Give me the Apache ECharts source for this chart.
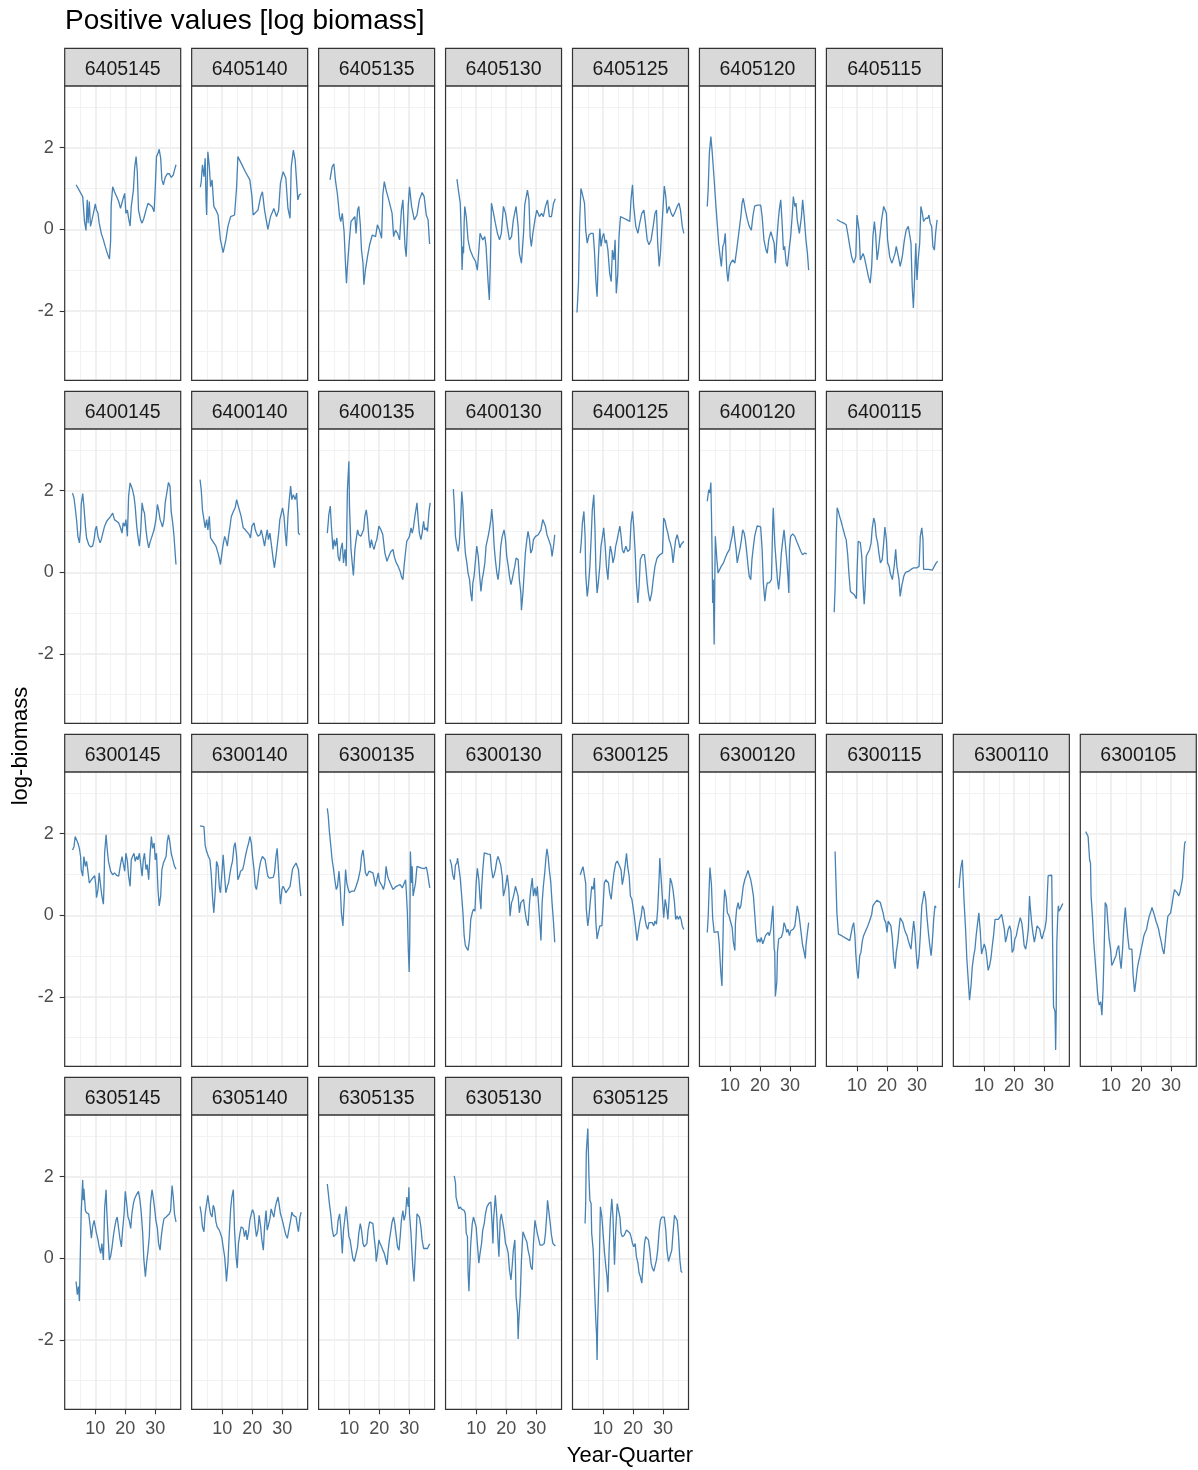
<!DOCTYPE html>
<html>
<head>
<meta charset="utf-8">
<title>Positive values [log biomass]</title>
<script src="https://cdn.jsdelivr.net/npm/echarts@6/dist/echarts.min.js"></script>
<style>
html, body { margin: 0; padding: 0; background: #ffffff; }
#main { width: 1198px; height: 1470px; }
</style>
</head>
<body>
<div id="main"></div>
<script>
// facet layout: one row of panel ids per row of the figure
var rowIds = [
    ['6405145', '6405140', '6405135', '6405130', '6405125', '6405120', '6405115'],
    ['6400145', '6400140', '6400135', '6400130', '6400125', '6400120', '6400115'],
    ['6300145', '6300140', '6300135', '6300130', '6300125', '6300120', '6300115', '6300110', '6300105'],
    ['6305145', '6305140', '6305135', '6305130', '6305125']
];

// axis ticks
var xTicks = [10, 20, 30];
var yTicks = [-2, 0, 2];

// series: [year-quarter, log-biomass]
var d6405145 = [[3.6,1.09],[5.8,0.80],[6.4,0.19],[6.9,-0.03],[7.3,0.72],[7.6,0.15],[8.0,0.68],[8.4,0.07],[8.9,0.23],[9.6,0.47],[10.0,0.62],[10.4,0.47],[10.9,0.39],[11.3,0.15],[12.0,-0.10],[12.7,-0.26],[13.3,-0.42],[14.0,-0.59],[14.7,-0.73],[15.1,-0.30],[15.3,0.60],[15.8,1.04],[16.4,0.92],[17.1,0.80],[17.8,0.68],[18.4,0.51],[18.9,0.47],[19.3,0.76],[19.8,0.88],[20.2,0.39],[20.7,0.47],[21.1,0.27],[21.6,0.08],[22.0,0.56],[22.7,0.96],[23.1,1.49],[23.6,1.78],[24.0,1.41],[24.4,0.47],[25.1,0.23],[25.6,0.15],[26.2,0.27],[26.9,0.47],[27.6,0.64],[28.2,0.62],[28.9,0.56],[29.6,0.43],[30.0,1.04],[30.4,1.78],[30.9,1.86],[31.3,1.96],[31.8,1.74],[32.2,1.21],[32.7,1.09],[33.3,1.27],[34.0,1.36],[34.7,1.36],[35.3,1.27],[36.0,1.33],[36.4,1.45],[36.9,1.58]];
var d6405140 = [[2.7,1.03],[3.0,1.17],[3.4,1.58],[3.9,1.29],[4.3,1.74],[4.6,0.72],[4.8,0.35],[5.2,1.90],[5.7,1.53],[6.1,1.04],[6.6,1.21],[7.2,0.56],[7.9,0.47],[8.6,0.35],[9.4,-0.26],[10.3,-0.57],[11.2,-0.26],[11.9,0.07],[12.8,0.31],[14.1,0.35],[14.8,1.04],[15.2,1.78],[16.3,1.62],[17.7,1.41],[19.2,1.21],[19.9,0.80],[20.3,0.35],[21.9,0.47],[22.8,0.80],[23.4,0.92],[24.1,0.47],[25.2,0.00],[26.1,0.31],[27.2,0.51],[28.1,0.31],[28.8,0.47],[29.4,1.13],[30.3,1.41],[31.2,1.25],[31.9,0.51],[32.6,0.27],[33.0,1.53],[33.7,1.94],[34.3,1.70],[35.2,0.72],[35.7,0.84],[36.3,0.87]];
var d6405135 = [[3.6,1.21],[4.3,1.53],[4.9,1.60],[5.4,1.21],[6.1,0.84],[6.8,0.31],[7.2,0.19],[7.7,0.39],[8.3,-0.06],[8.8,-0.91],[9.1,-1.32],[9.4,-0.91],[9.9,-0.42],[10.6,0.19],[11.2,0.23],[11.9,0.31],[12.3,-0.10],[12.8,0.47],[13.2,0.56],[13.7,0.11],[14.1,-0.51],[14.6,-0.83],[14.9,-1.36],[15.4,-1.00],[16.1,-0.67],[16.8,-0.38],[17.7,-0.14],[18.8,-0.18],[19.4,0.11],[20.1,-0.02],[20.8,-0.22],[21.2,0.84],[21.7,1.17],[22.3,0.96],[23.2,0.72],[24.3,0.39],[24.8,-0.18],[25.4,-0.02],[26.1,-0.10],[26.8,-0.26],[27.4,0.47],[27.9,0.72],[28.6,-0.42],[29.0,-0.67],[29.7,0.60],[30.1,1.04],[30.8,0.56],[31.7,0.23],[32.6,0.35],[33.4,0.72],[34.3,0.90],[35.0,0.80],[35.7,0.35],[36.3,0.23],[36.8,-0.36]];
var d6405130 = [[3.6,1.23],[4.0,1.00],[4.7,0.64],[5.1,-0.26],[5.3,-1.00],[5.6,-0.42],[5.8,-0.59],[6.0,0.15],[6.2,0.56],[6.7,0.31],[7.3,-0.26],[8.0,-0.51],[8.9,-0.67],[9.8,-0.79],[10.4,-1.00],[10.9,-0.51],[11.3,-0.10],[11.8,-0.14],[12.2,-0.26],[12.9,-0.18],[13.3,-0.42],[14.0,-1.32],[14.4,-1.73],[14.7,-0.91],[15.1,0.64],[15.8,0.39],[16.4,0.15],[17.1,-0.10],[17.8,-0.26],[18.4,-0.10],[19.1,0.56],[19.8,0.39],[20.4,0.07],[21.1,-0.26],[21.8,-0.18],[22.4,0.23],[23.3,0.56],[24.0,0.07],[24.4,-0.59],[25.1,-0.83],[25.8,-0.10],[26.2,0.60],[26.7,0.80],[27.1,0.96],[27.6,0.72],[28.0,-0.18],[28.4,-0.42],[28.9,-0.10],[29.6,0.23],[30.2,0.47],[31.1,0.31],[31.8,0.39],[32.4,0.31],[33.1,0.56],[33.8,0.72],[34.4,0.31],[35.1,0.31],[35.8,0.64],[36.4,0.75]];
var d6405125 = [[1.3,-2.04],[1.8,-1.32],[2.2,0.23],[2.6,1.00],[2.9,0.92],[3.3,0.88],[3.8,0.64],[4.2,-0.02],[4.7,-0.34],[5.3,-0.14],[6.0,-0.10],[6.7,-0.10],[7.1,-0.51],[7.6,-1.28],[8.0,-1.65],[8.4,-0.75],[8.9,0.02],[9.3,-0.42],[9.8,-0.18],[10.2,-0.10],[10.7,-0.34],[11.1,-0.26],[11.6,-0.51],[12.2,-1.08],[12.7,-1.28],[13.1,-0.51],[13.6,-0.75],[14.0,-0.26],[14.4,-1.57],[14.9,-1.08],[15.3,-0.18],[15.8,0.31],[16.9,0.27],[18.0,0.23],[18.9,0.19],[19.3,0.72],[19.8,1.09],[20.2,0.56],[20.9,0.07],[21.6,-0.10],[22.2,0.15],[22.9,0.39],[23.6,0.47],[24.0,0.23],[24.7,-0.26],[25.3,-0.38],[26.0,-0.26],[26.7,0.07],[27.3,0.39],[27.8,0.47],[28.2,-0.34],[28.7,-0.91],[29.1,-0.59],[29.6,0.07],[30.0,0.56],[30.4,1.06],[30.9,0.80],[31.3,0.39],[32.0,0.56],[32.7,0.39],[33.3,0.31],[34.0,0.43],[34.7,0.56],[35.3,0.64],[35.8,0.47],[36.4,0.07],[36.9,-0.10]];
var d6405120 = [[2.4,0.56],[2.7,0.96],[3.1,1.86],[3.6,2.27],[4.0,1.94],[4.4,1.53],[4.9,1.00],[5.3,0.56],[5.8,0.07],[6.2,-0.34],[6.7,-0.67],[7.1,-0.91],[7.6,-0.42],[8.0,-0.34],[8.4,-0.10],[8.9,-1.00],[9.3,-1.28],[9.8,-0.91],[10.2,-0.83],[10.9,-0.75],[11.6,-0.83],[12.2,-0.51],[12.9,-0.10],[13.6,0.31],[14.0,0.64],[14.4,0.76],[15.1,0.47],[15.8,0.23],[16.4,0.07],[17.1,-0.02],[17.6,0.31],[18.2,0.57],[19.1,0.59],[20.2,0.59],[20.7,0.31],[21.3,-0.26],[22.0,-0.51],[22.4,-0.59],[22.9,-0.26],[23.6,-0.06],[24.2,-0.10],[24.7,-0.34],[25.1,-0.83],[25.6,-0.26],[26.0,0.15],[26.4,0.47],[26.9,0.72],[27.3,0.23],[27.8,-0.51],[28.2,-0.42],[28.7,-0.83],[29.1,-0.91],[29.8,-0.42],[30.2,-0.18],[30.7,0.31],[31.1,0.80],[31.6,0.56],[32.0,0.64],[32.4,0.23],[33.1,-0.10],[33.8,0.31],[34.2,0.72],[34.7,0.31],[35.3,-0.26],[35.8,-0.59],[36.2,-1.00]];
var d6405115 = [[3.3,0.24],[4.4,0.19],[5.6,0.15],[6.4,0.11],[6.9,-0.10],[7.6,-0.42],[8.2,-0.67],[8.9,-0.83],[9.6,-0.67],[10.0,0.35],[10.7,-0.02],[11.1,-0.75],[11.6,-0.67],[12.0,-0.59],[12.4,-0.67],[13.1,-0.91],[13.8,-1.16],[14.4,-1.32],[14.9,-0.91],[15.3,-0.18],[15.8,0.19],[16.2,-0.10],[16.7,-0.75],[17.1,-0.55],[17.6,-0.51],[18.2,0.23],[18.9,0.56],[19.3,0.60],[19.8,0.39],[20.2,-0.26],[20.9,-0.67],[21.6,-0.83],[22.0,-0.75],[22.7,-0.59],[23.1,-0.42],[23.8,-0.67],[24.4,-0.91],[25.1,-0.67],[25.8,-0.26],[26.4,-0.02],[27.1,0.07],[27.6,0.11],[28.0,-0.34],[28.4,-1.40],[28.8,-1.93],[29.1,-1.40],[29.6,-0.34],[30.0,-1.24],[30.4,-0.75],[30.9,-0.34],[31.3,0.56],[31.8,0.39],[32.2,0.19],[32.9,0.27],[33.6,0.27],[34.0,0.35],[34.4,0.15],[34.9,0.07],[35.3,-0.42],[35.8,-0.51],[36.2,-0.10],[36.7,0.23]];

var d6400145 = [[2.4,1.94],[2.9,1.82],[3.3,1.58],[3.8,1.25],[4.2,0.88],[4.7,0.72],[5.1,1.04],[5.3,1.66],[5.8,1.93],[6.2,1.62],[6.7,1.13],[7.1,0.84],[7.8,0.68],[8.4,0.62],[9.1,0.64],[9.6,0.80],[10.0,1.04],[10.4,1.13],[10.9,0.88],[11.6,0.72],[12.0,0.80],[12.4,0.92],[13.1,1.13],[13.8,1.25],[14.4,1.29],[15.1,1.37],[15.8,1.45],[16.4,1.29],[17.1,1.25],[17.8,1.21],[18.4,1.09],[18.9,0.96],[19.3,1.21],[19.8,1.13],[20.2,1.29],[20.7,0.88],[21.1,1.86],[21.6,2.19],[22.0,2.11],[22.4,2.02],[22.9,1.86],[23.3,1.62],[23.8,1.13],[24.2,0.88],[24.7,0.64],[25.1,0.96],[25.6,1.70],[26.0,1.53],[26.4,1.45],[26.9,1.04],[27.3,0.80],[27.8,0.60],[28.2,0.72],[28.9,0.88],[29.6,1.04],[30.2,1.29],[30.7,1.66],[31.1,1.53],[31.6,1.29],[32.0,1.21],[32.4,1.11],[32.9,1.29],[33.3,1.70],[34.0,2.02],[34.4,2.20],[34.9,2.11],[35.3,1.49],[35.8,1.21],[36.2,0.92],[36.7,0.39],[36.9,0.19]];
var d6400140 = [[2.6,2.27],[3.0,2.02],[3.4,1.53],[3.9,1.29],[4.3,1.09],[4.8,1.29],[5.2,1.04],[5.7,1.37],[6.1,0.84],[6.6,0.80],[7.2,0.72],[7.9,0.64],[8.6,0.47],[9.0,0.35],[9.4,0.19],[9.9,0.47],[10.3,0.68],[10.8,0.88],[11.2,0.80],[11.7,0.64],[12.1,0.88],[12.6,1.13],[13.0,1.36],[13.7,1.49],[14.3,1.58],[14.8,1.78],[15.2,1.66],[15.7,1.53],[16.3,1.37],[17.0,1.09],[17.7,1.04],[18.3,1.06],[19.0,0.92],[19.4,0.84],[19.9,1.13],[20.6,1.21],[21.0,1.04],[21.4,0.96],[21.9,0.88],[22.6,0.92],[23.0,1.04],[23.7,0.80],[24.1,0.64],[24.6,0.88],[25.0,1.04],[25.4,0.80],[25.9,0.96],[26.3,0.72],[27.0,0.31],[27.4,0.11],[27.9,0.39],[28.3,0.64],[28.8,0.96],[29.2,1.29],[29.7,1.45],[30.1,1.58],[30.6,1.37],[31.0,0.96],[31.4,0.64],[31.9,1.37],[32.3,1.74],[32.8,2.11],[33.2,1.78],[33.7,1.90],[34.3,1.78],[34.8,1.94],[35.2,1.41],[35.4,0.96],[35.9,0.92]];
var d6400135 = [[2.7,0.96],[3.0,1.21],[3.2,1.41],[3.7,1.62],[4.1,1.09],[4.6,0.56],[5.0,0.80],[5.4,0.64],[5.9,0.84],[6.3,0.39],[6.8,0.27],[7.2,0.56],[7.7,0.72],[8.1,0.23],[8.6,0.56],[9.0,0.15],[9.4,2.02],[9.9,2.72],[10.1,1.62],[10.6,0.56],[11.0,0.23],[11.4,-0.08],[11.9,0.56],[12.3,0.80],[12.8,1.04],[13.2,0.92],[13.9,0.88],[14.3,0.92],[14.8,1.04],[15.2,1.37],[15.7,1.53],[16.1,1.29],[16.6,0.80],[17.0,0.60],[17.4,0.80],[17.9,0.64],[18.3,0.56],[18.8,0.72],[19.2,0.80],[19.9,1.13],[20.6,1.04],[21.2,0.92],[21.9,0.47],[22.6,0.27],[23.2,0.39],[23.9,0.51],[24.6,0.56],[25.0,0.39],[25.7,0.23],[26.3,0.15],[27.0,0.02],[27.4,-0.10],[27.9,-0.18],[28.3,0.15],[28.8,0.51],[29.2,0.76],[29.7,0.80],[30.1,0.88],[30.6,1.09],[31.0,0.96],[31.4,1.09],[31.9,1.37],[32.6,1.70],[33.0,1.29],[33.4,0.96],[33.9,0.80],[34.3,0.96],[34.8,1.25],[35.2,1.04],[35.7,1.09],[36.1,1.00],[36.6,1.49],[37.0,1.70]];
var d6400130 = [[2.4,2.04],[2.7,1.66],[3.1,0.88],[3.6,0.64],[4.0,0.51],[4.4,0.72],[4.9,1.37],[5.2,1.98],[5.6,1.62],[6.0,0.92],[6.4,0.47],[6.9,0.23],[7.3,-0.02],[7.8,-0.18],[8.2,-0.51],[8.6,-0.71],[8.9,-0.26],[9.3,-0.10],[9.8,0.31],[10.2,0.64],[10.7,0.39],[11.1,-0.02],[11.6,-0.47],[12.0,-0.18],[12.4,-0.02],[12.9,0.23],[13.3,0.64],[14.0,0.88],[14.4,1.04],[14.9,1.29],[15.2,1.55],[15.6,1.21],[16.0,0.64],[16.4,0.31],[16.9,-0.02],[17.3,-0.18],[17.8,0.15],[18.2,0.64],[18.7,0.88],[19.3,1.04],[19.8,0.80],[20.2,0.39],[20.7,0.15],[21.1,-0.10],[21.6,-0.30],[22.0,-0.18],[22.4,-0.02],[22.9,0.15],[23.3,0.35],[24.0,0.31],[24.4,-0.18],[24.9,-0.51],[25.1,-0.93],[25.6,-0.51],[26.0,-0.02],[26.4,0.47],[26.9,0.80],[27.3,1.00],[27.8,0.80],[28.2,0.47],[28.7,0.56],[29.1,0.80],[29.8,0.88],[30.7,0.92],[31.6,1.04],[32.2,1.29],[32.7,1.33],[33.1,1.13],[33.6,0.92],[34.2,0.80],[34.9,0.64],[35.3,0.39],[35.8,0.64],[36.2,0.92]];
var d6400125 = [[2.4,0.47],[2.7,0.72],[3.1,1.21],[3.6,1.49],[4.0,0.88],[4.2,-0.02],[4.7,-0.59],[5.1,-0.34],[5.6,0.15],[6.0,0.80],[6.4,1.53],[6.9,1.90],[7.3,1.04],[7.6,0.07],[8.0,-0.51],[8.4,-0.26],[8.9,0.15],[9.3,0.64],[9.8,0.88],[10.2,1.09],[10.7,0.64],[11.1,0.15],[11.6,-0.18],[12.0,0.31],[12.4,0.64],[12.9,0.47],[13.3,0.23],[13.8,0.39],[14.2,0.64],[14.7,0.80],[15.1,0.96],[15.6,1.13],[16.0,0.88],[16.4,0.56],[16.9,0.47],[17.6,0.64],[18.2,0.51],[18.9,0.56],[19.3,1.21],[19.8,1.49],[20.2,1.13],[20.7,0.47],[21.1,-0.26],[21.6,-0.75],[22.0,-0.34],[22.4,0.31],[23.1,0.43],[23.8,0.43],[24.2,0.15],[24.7,-0.26],[25.1,-0.51],[25.6,-0.71],[26.2,-0.51],[26.7,-0.18],[27.3,0.15],[28.0,0.35],[28.9,0.43],[29.8,0.47],[30.2,1.33],[30.7,1.25],[31.1,1.09],[31.6,0.96],[32.0,0.80],[32.4,0.72],[32.9,0.56],[33.3,0.23],[33.8,0.56],[34.2,0.80],[34.7,0.92],[35.1,0.80],[35.6,0.60],[36.0,0.68],[36.4,0.72],[36.9,0.76]];
var d6400120 = [[2.4,1.74],[2.9,2.02],[3.3,1.94],[3.6,2.20],[3.8,1.45],[4.0,0.56],[4.2,-0.75],[4.4,-0.18],[4.7,-1.77],[4.9,-0.26],[5.1,0.88],[5.6,0.31],[6.0,-0.02],[6.4,0.02],[7.1,0.15],[7.8,0.23],[8.4,0.35],[9.1,0.47],[9.8,0.56],[10.2,0.72],[10.7,0.88],[11.1,1.13],[11.6,0.80],[12.0,0.56],[12.4,0.23],[12.9,0.43],[13.3,0.56],[13.8,0.80],[14.2,1.04],[14.7,0.96],[15.1,0.80],[15.6,0.47],[16.0,0.15],[16.4,-0.10],[16.9,-0.18],[17.3,0.31],[17.8,0.64],[18.2,0.88],[18.7,1.04],[19.1,1.14],[19.6,1.11],[20.2,1.11],[20.7,0.56],[21.1,-0.26],[21.6,-0.71],[22.0,-0.42],[22.4,-0.26],[23.1,-0.26],[23.8,-0.18],[24.2,1.13],[24.4,1.58],[24.9,0.72],[25.3,0.31],[25.8,-0.18],[26.2,-0.42],[26.7,-0.02],[27.1,0.47],[27.6,0.80],[28.0,1.04],[28.4,0.72],[28.9,0.31],[29.3,-0.10],[29.6,-0.51],[29.8,0.56],[30.2,0.88],[30.9,0.94],[31.6,0.88],[32.2,0.76],[32.9,0.64],[33.6,0.51],[34.2,0.43],[34.9,0.47],[35.6,0.45]];
var d6400115 = [[2.4,-0.98],[2.7,-0.38],[3.1,0.92],[3.4,1.58],[3.8,1.49],[4.2,1.37],[4.7,1.25],[5.1,1.13],[5.6,1.00],[6.0,0.88],[6.4,0.80],[6.9,0.43],[7.3,-0.02],[7.8,-0.47],[8.4,-0.51],[9.1,-0.55],[9.8,-0.65],[10.0,-0.02],[10.4,0.76],[11.1,0.73],[11.6,0.39],[12.0,-0.26],[12.4,-0.78],[12.7,-0.42],[13.1,0.39],[13.6,0.47],[14.2,0.56],[14.7,0.72],[15.1,1.09],[15.6,1.33],[16.0,1.21],[16.4,0.88],[16.9,0.72],[17.3,0.47],[17.8,0.23],[18.4,0.31],[18.9,0.72],[19.3,1.11],[19.8,0.80],[20.2,0.23],[20.7,0.15],[21.1,-0.02],[21.8,-0.18],[22.4,0.15],[22.9,0.56],[23.3,0.15],[24.0,-0.18],[24.4,-0.59],[24.9,-0.34],[25.6,-0.10],[26.2,0.00],[27.1,0.02],[28.0,0.07],[28.9,0.11],[30.0,0.11],[30.7,0.15],[31.1,0.88],[31.6,1.09],[32.0,0.80],[32.2,0.07],[32.9,0.07],[33.8,0.07],[34.4,0.05],[35.1,0.05],[35.8,0.15],[36.4,0.23],[36.9,0.27]];

var d6300145 = [[2.4,1.60],[2.9,1.68],[3.3,1.93],[3.8,1.97],[4.2,1.77],[4.7,1.64],[5.1,1.44],[5.3,1.12],[5.8,0.96],[6.2,1.44],[6.7,1.20],[7.1,1.32],[7.6,1.04],[8.0,0.79],[8.7,0.87],[9.3,0.91],[9.8,0.97],[10.2,0.71],[10.4,0.43],[10.9,0.63],[11.3,1.04],[11.8,0.71],[12.2,0.47],[12.7,0.27],[12.9,0.71],[13.1,1.52],[13.6,1.97],[14.0,1.60],[14.4,1.32],[15.1,1.08],[15.8,0.99],[16.4,1.04],[17.1,0.98],[17.8,0.96],[18.4,1.24],[18.9,1.44],[19.3,1.28],[19.8,1.08],[20.2,1.52],[20.7,1.32],[21.1,0.96],[21.6,0.71],[22.0,1.36],[22.4,1.44],[22.9,1.52],[23.3,1.32],[23.8,1.44],[24.2,1.36],[24.7,1.52],[25.1,1.28],[25.6,0.96],[26.0,1.36],[26.4,1.52],[26.9,1.12],[27.3,1.24],[27.8,0.87],[28.2,1.44],[28.7,1.93],[29.1,1.64],[29.6,1.77],[30.0,1.36],[30.4,1.52],[30.9,0.63],[31.3,0.23],[31.8,0.47],[32.2,1.12],[32.7,1.28],[33.1,1.32],[33.6,1.44],[34.0,1.81],[34.4,1.97],[34.9,1.77],[35.3,1.52],[36.0,1.32],[36.4,1.20],[36.9,1.13]];
var d6300140 = [[2.6,2.19],[3.2,2.19],[3.9,2.17],[4.3,1.72],[4.8,1.56],[5.4,1.44],[5.9,1.36],[6.3,1.04],[6.8,0.39],[7.2,0.06],[7.7,0.63],[8.1,1.32],[8.6,1.20],[9.0,0.71],[9.4,0.55],[9.9,1.04],[10.3,1.48],[10.8,0.96],[11.2,0.55],[11.7,0.71],[12.1,0.79],[12.6,1.04],[13.0,1.20],[13.4,1.32],[13.9,1.68],[14.3,1.78],[14.8,1.44],[15.2,0.87],[15.7,0.96],[16.1,1.08],[16.8,1.12],[17.2,1.24],[17.7,1.44],[18.3,1.64],[18.8,1.77],[19.2,1.93],[19.7,1.77],[20.1,1.44],[20.6,1.12],[21.0,0.71],[21.4,0.63],[21.9,0.87],[22.3,1.12],[22.8,1.32],[23.4,1.44],[23.9,1.40],[24.3,1.36],[24.8,1.12],[25.2,0.96],[25.7,0.91],[26.3,0.91],[27.0,0.93],[27.4,1.04],[27.9,1.44],[28.3,1.64],[28.8,1.04],[29.2,0.47],[29.4,0.27],[29.9,0.63],[30.3,0.71],[30.8,0.63],[31.2,0.55],[31.9,0.63],[32.6,0.71],[33.0,0.91],[33.4,1.12],[33.9,1.20],[34.6,1.28],[35.0,1.32],[35.4,1.12],[35.9,0.67],[36.2,0.47]];
var d6300135 = [[2.7,2.62],[3.0,2.45],[3.4,2.05],[3.9,1.68],[4.3,1.36],[4.8,1.12],[5.2,0.87],[5.7,0.63],[6.1,0.71],[6.6,1.08],[7.0,0.71],[7.4,0.06],[7.9,-0.26],[8.3,0.31],[8.8,1.12],[9.2,0.79],[9.7,0.63],[10.1,0.55],[10.8,0.59],[11.7,0.59],[12.3,0.71],[13.0,0.87],[13.7,1.12],[14.1,1.44],[14.6,1.60],[15.0,1.36],[15.4,1.04],[15.9,0.96],[16.6,1.08],[17.2,1.06],[17.9,1.04],[18.3,0.91],[18.8,0.71],[19.2,0.87],[19.7,1.04],[20.1,0.83],[20.6,0.87],[21.0,0.71],[21.4,0.63],[21.9,0.79],[22.3,1.20],[22.8,0.96],[23.2,0.87],[23.9,0.75],[24.6,0.63],[25.0,0.59],[25.7,0.71],[26.3,0.75],[27.0,0.75],[27.7,0.67],[28.3,0.71],[28.8,0.87],[29.0,0.63],[29.4,0.06],[29.7,-0.83],[30.0,-1.39],[30.2,-0.58],[30.4,1.56],[30.8,0.79],[31.0,1.20],[31.3,0.47],[31.7,0.63],[32.1,0.79],[32.6,1.20],[33.2,1.18],[33.9,1.16],[34.3,1.12],[35.0,1.14],[35.7,1.18],[36.1,1.04],[36.6,0.79],[36.9,0.67]];
var d6300130 = [[1.3,1.37],[1.8,1.23],[2.2,0.99],[2.7,0.87],[3.1,1.23],[3.6,1.29],[3.8,1.40],[4.2,1.19],[4.7,0.91],[5.1,0.55],[5.6,0.06],[6.0,-0.50],[6.4,-0.74],[6.9,-0.81],[7.3,-0.86],[7.8,-0.58],[8.2,-0.10],[8.7,0.06],[9.1,0.15],[9.6,0.10],[10.0,0.79],[10.4,1.15],[10.9,0.87],[11.3,0.39],[11.6,0.15],[11.8,0.63],[12.2,1.11],[12.7,1.53],[13.3,1.53],[14.0,1.50],[14.7,1.49],[15.1,1.15],[15.6,0.91],[16.0,0.99],[16.4,1.11],[16.9,1.35],[17.3,1.44],[17.8,1.40],[18.2,1.23],[18.7,0.95],[19.1,0.47],[19.6,0.63],[20.0,0.79],[20.4,0.99],[20.9,0.63],[21.3,-0.02],[21.8,0.31],[22.2,0.39],[22.7,0.55],[23.1,0.71],[23.6,0.75],[24.0,0.47],[24.4,0.06],[24.9,0.31],[25.3,0.27],[25.8,0.39],[26.2,0.15],[26.7,-0.10],[27.3,-0.26],[27.8,0.31],[28.2,0.63],[28.7,0.91],[29.1,0.47],[29.6,0.67],[30.0,0.47],[30.4,0.71],[30.9,0.15],[31.3,-0.26],[31.6,-0.62],[32.0,0.31],[32.4,0.71],[32.9,1.07],[33.3,1.44],[33.6,1.63],[34.0,1.44],[34.4,1.11],[34.9,0.79],[35.3,0.31],[35.8,-0.18],[36.2,-0.66]];
var d6300125 = [[2.4,0.99],[2.9,1.11],[3.3,1.19],[3.8,1.23],[4.2,0.79],[4.4,0.15],[4.9,-0.26],[5.3,-0.02],[5.8,0.39],[6.2,0.71],[6.7,0.63],[7.1,0.91],[7.6,-0.18],[8.0,-0.58],[8.4,-0.42],[8.9,-0.26],[9.6,-0.26],[10.0,0.23],[10.4,0.79],[10.9,0.87],[11.3,0.91],[11.8,0.79],[12.2,0.55],[12.7,0.39],[13.1,0.71],[13.6,1.03],[14.2,1.27],[14.7,1.33],[15.1,1.27],[15.6,1.19],[16.0,1.11],[16.4,0.75],[16.9,0.95],[17.3,1.19],[17.8,1.52],[18.2,1.19],[18.7,0.95],[19.1,0.47],[19.6,0.39],[20.0,0.35],[20.4,-0.02],[20.9,-0.34],[21.3,-0.62],[21.8,-0.38],[22.2,-0.18],[22.7,-0.02],[23.1,0.23],[23.6,0.15],[24.0,-0.10],[24.4,-0.26],[24.9,-0.34],[25.3,-0.18],[25.8,-0.22],[26.4,-0.18],[26.9,-0.26],[27.3,-0.14],[27.8,-0.22],[28.2,0.15],[28.7,0.95],[28.9,1.40],[29.3,0.95],[29.8,0.39],[30.2,-0.06],[30.7,0.39],[31.1,0.23],[31.6,-0.10],[32.0,0.39],[32.4,0.91],[32.9,0.79],[33.3,0.63],[33.8,0.31],[34.2,-0.10],[34.7,-0.02],[35.1,-0.10],[35.6,-0.02],[36.0,-0.10],[36.4,-0.26],[36.9,-0.35]];
var d6300120 = [[2.4,-0.42],[2.7,-0.06],[3.1,0.79],[3.3,1.17],[3.8,0.75],[4.2,-0.06],[4.7,-0.42],[5.3,-0.40],[6.0,-0.40],[6.4,-0.70],[6.9,-1.39],[7.3,-1.73],[7.6,-0.74],[7.8,0.02],[8.2,0.63],[8.7,0.43],[9.1,0.06],[9.6,0.00],[10.2,-0.02],[10.7,-0.30],[11.1,-0.66],[11.6,-0.86],[11.8,-0.18],[12.2,0.15],[12.7,0.31],[13.1,0.15],[13.6,0.23],[14.0,0.47],[14.4,0.71],[14.9,0.87],[15.3,0.95],[16.0,1.10],[16.4,0.99],[16.9,0.87],[17.3,0.71],[17.8,0.47],[18.2,0.06],[18.7,-0.46],[19.1,-0.66],[19.6,-0.58],[20.0,-0.66],[20.4,-0.54],[20.9,-0.70],[21.3,-0.62],[21.8,-0.50],[22.2,-0.54],[22.7,-0.42],[23.1,-0.50],[23.6,-0.34],[24.0,0.02],[24.3,0.23],[24.7,-0.82],[24.9,-0.90],[25.1,-1.99],[25.6,-1.63],[25.8,-0.90],[26.2,-0.58],[26.7,-0.58],[27.1,-0.54],[27.6,-0.42],[28.0,-0.18],[28.4,-0.26],[28.9,-0.42],[29.3,-0.34],[29.8,-0.50],[30.2,-0.38],[30.7,-0.34],[31.1,-0.34],[31.6,-0.26],[32.0,-0.02],[32.4,0.23],[32.9,0.06],[33.3,-0.18],[33.8,-0.50],[34.2,-0.74],[34.7,-0.90],[35.1,-1.06],[35.3,-0.74],[35.8,-0.42],[36.2,-0.18]];
var d6300115 = [[2.7,1.56],[2.9,1.04],[3.3,0.06],[3.8,-0.46],[4.9,-0.50],[6.2,-0.56],[7.6,-0.62],[8.0,-0.66],[8.4,-0.30],[8.9,-0.18],[9.3,-0.50],[9.6,-0.95],[10.0,-1.35],[10.4,-1.55],[10.9,-0.99],[11.3,-0.91],[11.8,-0.62],[12.2,-0.50],[12.9,-0.38],[13.6,-0.26],[14.2,-0.14],[14.9,0.02],[15.3,0.23],[16.0,0.31],[16.7,0.37],[17.3,0.37],[17.8,0.31],[18.2,0.19],[18.7,0.06],[19.1,-0.10],[19.6,-0.18],[20.0,-0.42],[20.4,-0.14],[20.9,-0.18],[21.3,-0.26],[21.8,-0.58],[22.2,-1.07],[22.7,-1.31],[23.1,-0.91],[23.6,-0.66],[24.0,-0.34],[24.4,-0.06],[24.9,-0.02],[25.3,-0.18],[25.8,-0.34],[26.2,-0.42],[26.7,-0.50],[27.1,-0.62],[27.6,-0.74],[28.0,-0.83],[28.4,-0.50],[28.9,-0.14],[29.3,-0.42],[29.8,-0.99],[30.2,-1.31],[30.7,-0.99],[31.1,-0.50],[31.6,0.23],[32.0,0.39],[32.4,0.59],[32.9,0.39],[33.3,-0.02],[33.8,-0.42],[34.2,-0.70],[34.7,-0.99],[35.1,-0.66],[35.6,-0.06],[36.0,0.23],[36.4,0.19]];
var d6300110 = [[1.7,0.67],[1.9,0.87],[2.3,1.16],[2.8,1.36],[3.0,1.00],[3.4,0.31],[3.9,-0.38],[4.3,-1.07],[4.8,-1.64],[5.2,-2.08],[5.7,-1.72],[6.1,-1.27],[6.6,-0.99],[7.0,-0.83],[7.4,-0.50],[7.9,-0.18],[8.3,0.06],[8.8,-0.42],[9.2,-0.95],[9.7,-0.99],[10.1,-0.70],[10.6,-0.83],[11.0,-1.07],[11.4,-1.35],[11.9,-1.23],[12.3,-1.07],[12.8,-0.74],[13.2,-0.50],[13.7,-0.10],[14.1,-0.14],[14.8,-0.10],[15.4,-0.14],[15.9,0.02],[16.3,-0.14],[16.8,-0.34],[17.2,-0.66],[17.7,-0.50],[18.1,-0.34],[18.6,-0.26],[19.0,-0.38],[19.4,-0.91],[19.9,-0.83],[20.3,-0.58],[20.8,-0.50],[21.2,-0.34],[21.7,-0.18],[22.1,-0.06],[22.6,-0.18],[23.0,-0.42],[23.4,-0.74],[23.9,-0.83],[24.3,-0.66],[24.8,-0.34],[25.2,0.47],[25.4,0.23],[25.9,-0.18],[26.3,-0.42],[26.8,-0.66],[27.2,-0.50],[27.7,-0.26],[28.1,-0.22],[28.6,-0.34],[29.0,-0.50],[29.4,-0.58],[29.9,-0.42],[30.3,-0.34],[30.8,-0.10],[31.2,0.63],[31.4,0.97],[31.9,1.00],[32.6,0.98],[32.8,-0.18],[33.2,-2.24],[33.7,-2.36],[33.9,-3.30],[34.1,-2.28],[34.3,-0.66],[34.6,-0.02],[34.8,0.23],[35.0,0.10],[35.4,0.15],[35.9,0.23],[36.3,0.29]];
var d6300105 = [[1.6,2.05],[2.0,2.01],[2.4,1.93],[2.9,1.36],[3.2,1.28],[3.4,0.47],[3.9,-0.10],[4.3,-0.66],[4.8,-1.15],[5.2,-1.55],[5.7,-2.04],[6.1,-2.20],[6.6,-2.12],[7.0,-2.45],[7.4,-1.80],[7.7,-0.99],[7.9,-0.34],[8.1,0.31],[8.6,0.23],[9.0,-0.18],[9.4,-0.58],[9.9,-0.83],[10.3,-1.23],[10.8,-1.15],[11.2,-1.07],[11.7,-0.99],[12.1,-0.83],[12.6,-0.74],[13.0,-1.07],[13.4,-1.31],[13.9,-0.83],[14.3,-0.26],[14.8,0.19],[15.2,-0.18],[15.7,-0.58],[16.1,-0.83],[16.6,-0.79],[17.0,-0.83],[17.4,-1.47],[17.9,-1.88],[18.3,-1.64],[18.8,-1.31],[19.2,-1.15],[19.7,-0.99],[20.1,-0.83],[20.6,-0.66],[21.0,-0.50],[21.4,-0.42],[21.9,-0.34],[22.3,-0.18],[22.8,-0.02],[23.2,0.06],[23.7,0.19],[24.1,0.15],[24.6,-0.02],[25.0,-0.14],[25.4,-0.22],[25.9,-0.34],[26.3,-0.50],[26.8,-0.66],[27.2,-0.83],[27.7,-0.95],[28.1,-0.66],[28.6,-0.26],[29.0,-0.02],[29.4,0.02],[29.9,0.06],[30.3,0.23],[30.8,0.47],[31.2,0.63],[31.7,0.65],[32.1,0.55],[32.6,0.47],[33.0,0.55],[33.4,0.71],[33.9,0.91],[34.3,1.48],[34.6,1.77],[34.9,1.81]];

var d6305145 = [[3.6,-0.57],[4.0,-0.89],[4.4,-0.69],[4.7,-1.05],[4.9,-0.28],[5.3,1.13],[5.8,1.92],[6.0,1.42],[6.2,1.70],[6.7,1.17],[7.1,1.11],[7.8,1.09],[8.2,0.85],[8.7,0.49],[9.1,0.77],[9.6,0.93],[10.0,0.89],[10.4,0.61],[10.9,0.45],[11.3,0.28],[11.8,0.12],[12.2,0.36],[12.7,-0.04],[13.1,1.21],[13.6,1.68],[13.8,1.21],[14.2,0.61],[14.7,-0.04],[15.1,0.04],[15.6,0.28],[16.0,0.53],[16.4,0.73],[16.9,0.93],[17.3,1.01],[17.8,0.97],[18.2,0.49],[18.7,0.28],[19.1,0.69],[19.6,1.09],[20.0,1.64],[20.4,1.38],[20.9,1.01],[21.3,0.93],[21.8,0.73],[22.2,1.09],[22.7,1.34],[23.1,1.46],[23.6,1.54],[24.0,1.58],[24.4,1.64],[24.9,1.42],[25.3,1.13],[25.8,0.61],[26.2,-0.04],[26.7,-0.45],[27.1,-0.12],[27.6,0.20],[28.0,0.53],[28.4,1.34],[28.9,1.68],[29.3,1.50],[29.8,1.21],[30.2,0.93],[30.7,0.73],[31.1,0.36],[31.6,0.20],[32.0,0.53],[32.4,0.77],[32.9,0.97],[33.6,1.01],[34.2,0.98],[34.7,1.09],[35.1,1.17],[35.6,1.78],[36.0,1.50],[36.4,1.09],[36.9,0.89]];
var d6305140 = [[2.6,1.27],[3.0,1.09],[3.4,0.77],[3.9,0.65],[4.3,1.09],[4.8,1.34],[5.2,1.54],[5.7,1.26],[6.1,1.09],[6.6,1.01],[7.0,1.30],[7.4,1.21],[7.9,0.89],[8.3,0.77],[9.0,0.69],[9.4,0.61],[9.9,0.49],[10.3,0.28],[10.8,0.04],[11.2,-0.32],[11.4,-0.57],[11.9,-0.12],[12.3,0.53],[12.8,1.21],[13.2,1.50],[13.7,1.68],[14.1,0.69],[14.6,0.04],[15.0,-0.24],[15.4,0.36],[15.9,0.61],[16.3,0.77],[17.0,0.73],[17.4,0.53],[17.9,0.69],[18.3,0.45],[18.8,0.65],[19.2,0.93],[19.7,1.09],[20.1,1.19],[20.6,1.09],[21.0,0.77],[21.4,0.53],[21.9,0.69],[22.3,1.05],[22.8,0.77],[23.2,0.45],[23.7,0.20],[24.1,0.77],[24.6,1.17],[25.0,0.69],[25.4,0.81],[25.9,0.97],[26.3,1.21],[26.8,1.09],[27.2,1.01],[27.7,1.26],[28.1,1.38],[28.6,1.50],[29.0,1.30],[29.4,1.09],[29.9,0.97],[30.3,0.85],[30.8,0.69],[31.2,0.57],[31.7,0.49],[32.1,0.65],[32.8,0.93],[33.2,1.13],[33.7,1.05],[34.1,1.09],[34.6,1.01],[35.0,0.81],[35.4,0.65],[35.9,1.01],[36.3,1.13]];
var d6305135 = [[2.7,1.82],[3.0,1.62],[3.4,1.34],[3.9,1.05],[4.3,0.73],[4.8,0.53],[5.2,0.57],[5.9,0.61],[6.3,0.93],[6.8,1.09],[7.2,0.77],[7.7,0.12],[8.1,0.69],[8.6,1.01],[9.0,1.27],[9.4,0.93],[9.9,0.53],[10.3,0.45],[10.8,0.20],[11.2,0.00],[11.7,-0.08],[12.3,-0.08],[12.8,0.28],[13.2,0.61],[13.7,0.85],[14.1,0.69],[14.6,0.36],[15.0,0.28],[15.4,0.32],[15.9,0.36],[16.3,0.69],[16.8,0.89],[17.4,0.89],[17.9,0.85],[18.3,0.53],[18.8,0.20],[19.0,-0.08],[19.4,0.12],[19.9,0.45],[20.3,0.36],[20.8,0.28],[21.2,0.20],[21.7,0.12],[22.1,0.00],[22.6,-0.16],[23.0,0.20],[23.4,0.45],[23.9,0.69],[24.3,0.89],[24.8,1.01],[25.2,0.85],[25.7,0.53],[26.1,0.28],[26.6,0.20],[27.0,0.53],[27.4,0.93],[27.9,1.17],[28.3,0.93],[28.8,1.09],[29.2,1.50],[29.7,1.26],[29.9,1.74],[30.1,1.09],[30.6,0.61],[31.0,0.04],[31.2,-0.20],[31.6,-0.57],[31.9,-0.12],[32.3,0.53],[32.6,1.09],[33.0,1.05],[33.4,1.01],[33.9,0.77],[34.3,0.45],[34.8,0.24],[35.4,0.20],[36.1,0.24],[36.6,0.32],[36.9,0.35]];
var d6305130 = [[2.7,2.02],[3.1,1.86],[3.3,1.50],[3.8,1.34],[4.2,1.21],[4.7,1.26],[5.1,1.21],[5.6,1.24],[6.0,1.17],[6.4,1.09],[6.7,0.61],[7.1,0.53],[7.3,-0.32],[7.6,-0.81],[7.8,-0.36],[8.2,0.36],[8.7,0.85],[9.1,1.01],[9.6,1.05],[10.0,0.77],[10.4,0.36],[10.9,-0.12],[11.3,0.12],[11.8,0.36],[12.2,0.69],[12.7,0.85],[13.1,1.09],[13.6,1.26],[14.2,1.34],[14.9,1.38],[15.3,0.85],[15.6,0.36],[15.8,0.93],[16.2,1.34],[16.4,1.54],[16.9,1.01],[17.3,0.40],[17.6,0.04],[18.0,0.93],[18.4,1.09],[18.9,1.09],[19.3,0.69],[19.8,0.36],[20.2,0.28],[20.7,0.12],[21.1,-0.28],[21.6,-0.53],[22.0,-0.20],[22.4,0.20],[22.9,0.45],[23.1,-0.16],[23.3,-0.93],[23.8,-1.34],[24.0,-1.98],[24.2,-1.58],[24.7,-0.93],[25.1,-0.04],[25.6,0.65],[26.0,0.57],[26.4,0.49],[26.9,0.40],[27.3,0.20],[27.8,0.04],[28.2,-0.20],[28.7,-0.28],[29.1,0.36],[29.6,0.93],[30.0,0.77],[30.4,0.61],[30.9,0.45],[31.3,0.32],[32.0,0.32],[32.7,0.36],[33.1,0.61],[33.6,1.13],[33.8,1.42],[34.2,1.17],[34.7,0.85],[35.1,0.57],[35.6,0.36],[36.0,0.32],[36.4,0.30]];
var d6305125 = [[4.0,0.85],[4.2,1.38],[4.4,2.59],[4.9,3.18],[5.1,2.59],[5.3,1.98],[5.6,1.42],[6.0,1.34],[6.2,0.61],[6.7,0.20],[7.1,-0.61],[7.6,-1.58],[7.8,-1.82],[8.0,-2.49],[8.2,-1.50],[8.7,-0.28],[9.1,1.26],[9.6,1.01],[10.0,0.61],[10.4,0.20],[10.9,-0.20],[11.3,-0.45],[11.6,-0.83],[12.0,0.20],[12.4,0.93],[12.9,1.46],[13.3,1.01],[13.8,-0.16],[14.2,0.69],[14.7,1.34],[15.1,1.38],[15.6,1.01],[16.0,0.61],[16.4,0.53],[17.1,0.57],[17.8,0.69],[18.2,0.73],[18.9,0.62],[19.3,0.53],[19.8,0.36],[20.2,0.28],[20.7,0.36],[21.1,0.04],[21.6,-0.12],[22.0,-0.36],[22.4,-0.45],[22.9,-0.61],[23.3,-0.20],[23.8,0.36],[24.2,0.53],[24.7,0.57],[25.1,0.45],[25.6,0.20],[26.0,-0.12],[26.4,-0.24],[26.9,-0.32],[27.3,-0.20],[27.8,-0.04],[28.2,0.20],[28.7,0.69],[29.1,0.93],[29.6,1.01],[30.0,1.03],[30.4,1.01],[30.9,0.69],[31.3,0.20],[31.8,-0.08],[32.4,-0.04],[32.9,0.20],[33.3,0.61],[33.8,1.05],[34.2,1.01],[34.7,0.93],[35.1,0.61],[35.6,-0.04],[36.0,-0.32],[36.4,-0.35]];

var panelData = {
    '6405145': d6405145, '6405140': d6405140, '6405135': d6405135, '6405130': d6405130,
    '6405125': d6405125, '6405120': d6405120, '6405115': d6405115,
    '6400145': d6400145, '6400140': d6400140, '6400135': d6400135, '6400130': d6400130,
    '6400125': d6400125, '6400120': d6400120, '6400115': d6400115,
    '6300145': d6300145, '6300140': d6300140, '6300135': d6300135, '6300130': d6300130,
    '6300125': d6300125, '6300120': d6300120, '6300115': d6300115, '6300110': d6300110,
    '6300105': d6300105,
    '6305145': d6305145, '6305140': d6305140, '6305135': d6305135, '6305130': d6305130,
    '6305125': d6305125
};

// panel geometry (px)
var GX0 = 64.7, GPITCH = 126.95, GW = 116;
var GY0 = 86, RPITCH = 343, GH = 294.3, STRIP_H = 37.7;
var FONT = '"Liberation Sans", Arial, Helvetica, sans-serif';

var dom = document.getElementById('main');
var myChart = echarts.init(dom, null, { renderer: 'canvas' });

var grids = [], xAxes = [], yAxes = [], series = [], graphics = [];

rowIds.forEach(function (ids, r) {
    ids.forEach(function (id, c) {
        var i = grids.length;
        var left = GX0 + c * GPITCH;
        var top = GY0 + r * RPITCH;
        // x labels only where no panel sits below
        var showX = (r === 3) || (r === 2 && c >= 5);
        var showY = (c === 0);

        grids.push({ left: left, top: top, width: GW, height: GH, show: false, containLabel: false });

        xAxes.push({
            gridIndex: i, type: 'value', position: 'bottom', min: -0.2, max: 38.47,
            minInterval: 10, maxInterval: 10,
            axisLine: { show: false, onZero: false },
            axisTick: { show: showX, length: 5, lineStyle: { color: '#333333', width: 1.1 }, customValues: xTicks },
            axisLabel: {
                show: showX, customValues: xTicks, color: '#4D4D4D', fontSize: 18, fontFamily: FONT, margin: 11,
                formatter: function (v) { return xTicks.indexOf(v) >= 0 ? String(v) : ''; }
            },
            splitLine: { show: true, lineStyle: { color: '#EBEBEB', width: 1.5 } },
            minorTick: { show: false, splitNumber: 2 },
            minorSplitLine: { show: true, lineStyle: { color: '#F1F1F1', width: 0.9 } }
        });

        yAxes.push({
            gridIndex: i, type: 'value', position: 'left', min: -3.7, max: 3.51,
            minInterval: 2, maxInterval: 2,
            axisLine: { show: false, onZero: false },
            axisTick: { show: showY, length: 5, lineStyle: { color: '#333333', width: 1.1 }, customValues: yTicks },
            axisLabel: {
                show: showY, customValues: yTicks, color: '#4D4D4D', fontSize: 18, fontFamily: FONT, margin: 11,
                formatter: function (v) { return yTicks.indexOf(v) >= 0 ? String(v) : ''; }
            },
            splitLine: { show: true, lineStyle: { color: '#EBEBEB', width: 1.5 } },
            minorTick: { show: false, splitNumber: 2 },
            minorSplitLine: { show: true, lineStyle: { color: '#F1F1F1', width: 0.9 } }
        });

        series.push({
            name: id, type: 'line', xAxisIndex: i, yAxisIndex: i,
            data: panelData[id],
            symbol: 'none', showSymbol: false, silent: true, clip: true,
            lineStyle: { color: '#4682B4', width: 1.3 },
            itemStyle: { color: '#4682B4' }
        });

        // strip on top of the panel
        graphics.push({
            type: 'rect', z: 100,
            shape: { x: left, y: top - STRIP_H, width: GW, height: STRIP_H },
            style: { fill: '#D9D9D9', stroke: '#333333', lineWidth: 1.2 }
        });
        graphics.push({
            type: 'text', z: 101, x: left + GW / 2, y: top - 16.8,
            style: {
                text: id, font: '19.5px ' + FONT, fill: '#1A1A1A',
                align: 'center', verticalAlign: 'middle', textAlign: 'center', textVerticalAlign: 'middle'
            }
        });
        // panel border
        graphics.push({
            type: 'rect', z: 100,
            shape: { x: left, y: top, width: GW, height: GH },
            style: { fill: 'none', stroke: '#333333', lineWidth: 1.2 }
        });
    });
});

// title and axis titles
graphics.push({
    type: 'text', z: 101, x: 65, y: 21,
    style: { text: 'Positive values [log biomass]', font: '28px ' + FONT, fill: '#000000',
        align: 'left', verticalAlign: 'middle', textAlign: 'left', textVerticalAlign: 'middle' }
});
graphics.push({
    type: 'text', z: 101, x: 630, y: 1456,
    style: { text: 'Year-Quarter', font: '22px ' + FONT, fill: '#000000',
        align: 'center', verticalAlign: 'middle', textAlign: 'center', textVerticalAlign: 'middle' }
});
graphics.push({
    type: 'text', z: 101, x: 21, y: 746, rotation: Math.PI / 2,
    style: { text: 'log-biomass', font: '22px ' + FONT, fill: '#000000',
        align: 'center', verticalAlign: 'middle', textAlign: 'center', textVerticalAlign: 'middle' }
});

option = null;
option = {
    backgroundColor: '#ffffff',
    animation: false,
    textStyle: { fontFamily: FONT },
    grid: grids,
    xAxis: xAxes,
    yAxis: yAxes,
    series: series,
    graphic: { elements: graphics }
};

if (option && typeof option === 'object') {
    myChart.setOption(option, true);
}
</script>
</body>
</html>
